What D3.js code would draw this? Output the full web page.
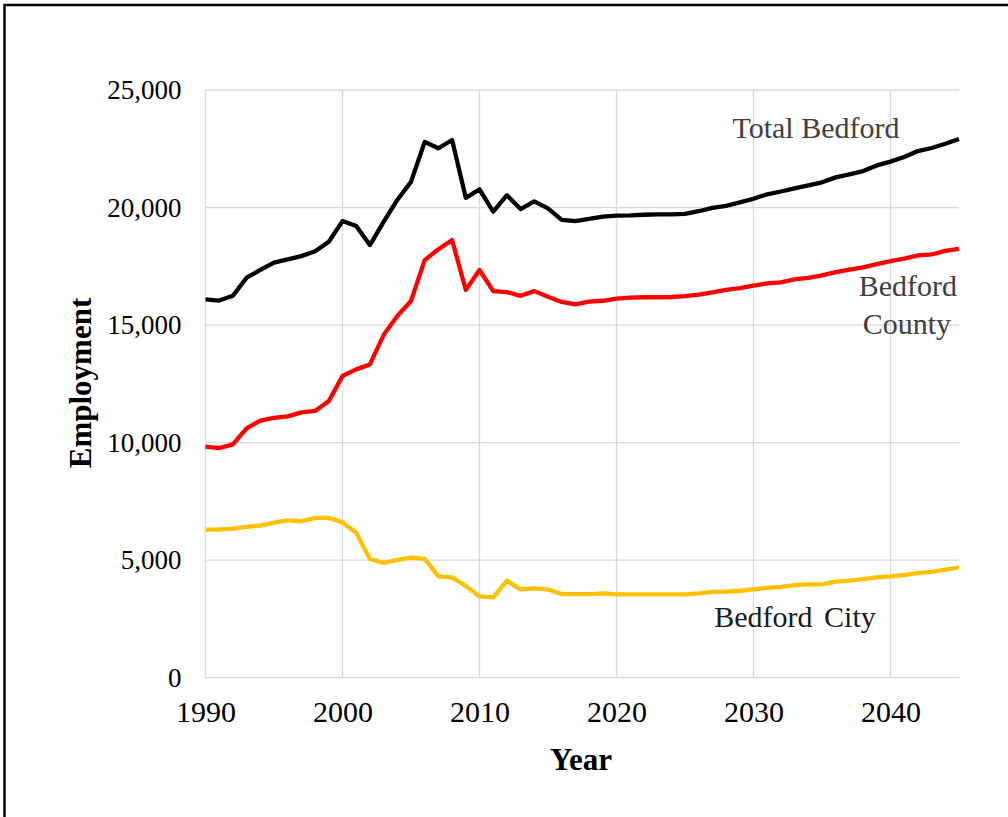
<!DOCTYPE html>
<html>
<head>
<meta charset="utf-8">
<script src="https://cdn.jsdelivr.net/npm/d3@7"></script>
<style>
  body { margin: 0; background: #fff; }
  svg text { font-family: "Liberation Serif", "Times New Roman", serif; }
</style>
</head>
<body>
<div id="plot"></div>
<script>
// data
var years = d3.range(1990, 2046);
var totalBedford = [16100, 16050, 16250, 17020, 17350, 17660, 17800, 17940, 18150, 18550,
  19430, 19220, 18410, 19400, 20330, 21100, 22800, 22530, 22880, 20420,
  20780, 19830, 20530, 19940, 20270, 19970, 19480, 19430, 19520, 19620,
  19660, 19670, 19700, 19720, 19720, 19740, 19850, 19990, 20080, 20230,
  20380, 20570, 20690, 20820, 20950, 21080, 21290, 21420, 21560, 21800,
  21960, 22160, 22410, 22540, 22720, 22920];
var bedfordCounty = [9830, 9770, 9930, 10610, 10940, 11060, 11120, 11290, 11350, 11770,
  12840, 13120, 13330, 14580, 15390, 16030, 17770, 18230, 18620, 16500,
  17350, 16450, 16410, 16250, 16450, 16210, 15990, 15890, 16000, 16040,
  16130, 16170, 16190, 16190, 16200, 16240, 16300, 16400, 16500, 16580,
  16680, 16780, 16820, 16950, 17010, 17120, 17260, 17360, 17460, 17600,
  17730, 17830, 17970, 18010, 18160, 18250];
var bedfordCity = [6300, 6300, 6340, 6420, 6470, 6600, 6700, 6650, 6800, 6800,
  6610, 6170, 5050, 4880, 5010, 5110, 5060, 4310, 4270, 3900,
  3460, 3420, 4130, 3760, 3800, 3750, 3560, 3560, 3560, 3590,
  3550, 3550, 3550, 3550, 3550, 3550, 3590, 3650, 3660, 3700,
  3760, 3820, 3860, 3940, 3970, 3970, 4090, 4130, 4190, 4270,
  4310, 4370, 4460, 4500, 4600, 4700];
var xTicks = [1990, 2000, 2010, 2020, 2030, 2040];
var yTicks = [0, 5000, 10000, 15000, 20000, 25000];

var seriesList = [
  { name: "Total Bedford", values: totalBedford, color: "#000000" },
  { name: "Bedford County", values: bedfordCounty, color: "#ff0000" },
  { name: "Bedford City", values: bedfordCity, color: "#ffc000" }
];

var width = 1008, height = 817;
var svg = d3.select("#plot").append("svg")
  .attr("width", width)
  .attr("height", height);

// outer frame
svg.append("rect")
  .attr("x", 4.5).attr("y", 5)
  .attr("width", 1010).attr("height", 820)
  .attr("fill", "none")
  .attr("stroke", "#000")
  .attr("stroke-width", 2.5);

var x = d3.scaleLinear().domain([1990, 2045]).range([205.5, 959]);
var y = d3.scaleLinear().domain([0, 25000]).range([677.7, 90.2]);

// gridlines
svg.append("g").selectAll("line.h").data(yTicks).join("line")
  .attr("x1", x(1990)).attr("x2", x(2045))
  .attr("y1", d => y(d)).attr("y2", d => y(d))
  .attr("stroke", "#d9d9d9").attr("stroke-width", 1.3);
svg.append("g").selectAll("line.v").data(xTicks).join("line")
  .attr("x1", d => x(d)).attr("x2", d => x(d))
  .attr("y1", y(0)).attr("y2", y(25000))
  .attr("stroke", "#d9d9d9").attr("stroke-width", 1.3);

// axes (labels only, lines drawn as grid)
var yAxis = svg.append("g")
  .attr("transform", "translate(" + x(1990) + ",0)")
  .call(d3.axisLeft(y).tickValues(yTicks).tickFormat(d3.format(",")).tickSize(0).tickPadding(24));
yAxis.select(".domain").remove();
yAxis.selectAll("text")
  .attr("font-size", 27).attr("fill", "#000")
  .attr("font-family", "'Liberation Serif', serif");

var xAxis = svg.append("g")
  .attr("transform", "translate(0," + y(0) + ")")
  .call(d3.axisBottom(x).tickValues(xTicks).tickFormat(d3.format("d")).tickSize(0).tickPadding(23));
xAxis.select(".domain").remove();
xAxis.selectAll("text")
  .attr("font-size", 30).attr("fill", "#000")
  .attr("font-family", "'Liberation Serif', serif");

// lines
var line = d3.line()
  .x((d, i) => x(years[i]))
  .y(d => y(d));

svg.append("g").selectAll("path").data(seriesList).join("path")
  .attr("d", d => line(d.values))
  .attr("fill", "none")
  .attr("stroke", d => d.color)
  .attr("stroke-width", 4.3)
  .attr("stroke-linejoin", "round");

// axis titles
svg.append("text")
  .attr("x", 581).attr("y", 770)
  .attr("text-anchor", "middle")
  .attr("font-size", 31).attr("font-weight", "bold")
  .text("Year");

svg.append("text")
  .attr("transform", "translate(91,383) rotate(-90)")
  .attr("text-anchor", "middle")
  .attr("font-size", 31).attr("font-weight", "bold")
  .text("Employment");

// series labels
svg.append("text")
  .attr("x", 816).attr("y", 138)
  .attr("text-anchor", "middle")
  .attr("font-size", 30).attr("fill", "#404040")
  .text("Total Bedford");

svg.append("text")
  .attr("x", 957).attr("y", 296)
  .attr("text-anchor", "end")
  .attr("font-size", 30).attr("fill", "#404040")
  .text("Bedford");
svg.append("text")
  .attr("x", 951).attr("y", 334)
  .attr("text-anchor", "end")
  .attr("font-size", 30).attr("fill", "#404040")
  .text("County");

svg.append("text")
  .attr("x", 795).attr("y", 627)
  .attr("text-anchor", "middle")
  .attr("font-size", 30).attr("fill", "#1a1a1a")
  .attr("word-spacing", 4)
  .text("Bedford City");
</script>
</body>
</html>
